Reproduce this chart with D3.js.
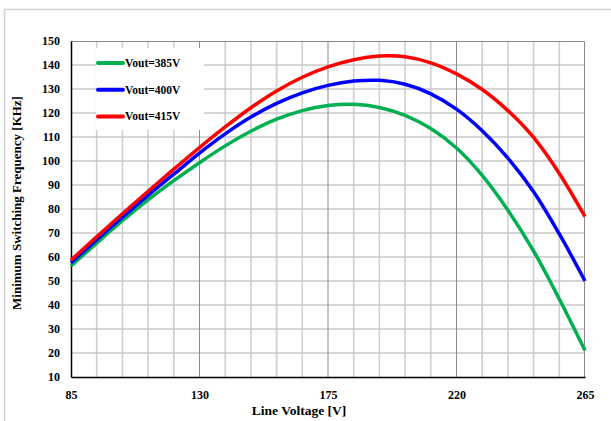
<!DOCTYPE html>
<html>
<head>
<meta charset="utf-8">
<script src="https://cdn.jsdelivr.net/npm/d3@7"></script>
<style>
  body { margin: 0; background: #fff; }
  text { font-family: "Liberation Serif", "Times New Roman", serif; font-weight: bold; fill: #000; }
</style>
</head>
<body>
<svg id="chart"></svg>
<script>
// Line voltage samples [V]
const voltage = [85, 94, 103, 112, 121, 130, 139, 148, 157, 166, 175, 184, 193, 202, 211, 220, 229, 238, 247, 256, 265];

// Minimum switching frequency [KHz]
const vout385 = [56.3, 65.8, 75.1, 83.8, 91.8, 99.3, 106.3, 112.4, 117.4, 121, 123.1, 123.6, 122.3, 119, 113.5, 105.4, 94, 79.5, 62.5, 42.5, 21];
const vout400 = [57.6, 67.2, 76.6, 85.7, 94.5, 103.3, 111.3, 118.3, 124, 128.4, 131.5, 133.3, 133.6, 132, 128, 121.6, 112.6, 101.2, 87.2, 69.6, 50];
const vout415 = [58.7, 68.4, 78, 87.4, 96.6, 105.6, 114.2, 122.2, 129.2, 134.9, 139.2, 142.2, 143.7, 143.4, 140.9, 136.3, 129.8, 121, 109.8, 94.8, 76.8];

const seriesNames = ['Vout=385V', 'Vout=400V', 'Vout=415V'];
const seriesColors = ['#00b050', '#0000ff', '#ff0000'];

const xTicks = [85, 130, 175, 220, 265];
const yTicks = [10, 20, 30, 40, 50, 60, 70, 80, 90, 100, 110, 120, 130, 140, 150];

const W = 611, H = 421;
const margin = {top: 41, right: 26, bottom: 44, left: 71};
const width = W - margin.left - margin.right;
const height = H - margin.top - margin.bottom;

const svg = d3.select('#chart').attr('width', W).attr('height', H);

// outer frame (only top and left edges are visible)
svg.append('path')
    .attr('d', `M4.5,${H} L4.5,9.5 L${W},9.5`)
    .attr('fill', 'none')
    .attr('stroke', '#d4d4d4')
    .attr('stroke-width', 1.5);

const x = d3.scaleLinear().domain([85, 265]).range([0, width]);
const y = d3.scaleLinear().domain([10, 150]).range([height, 0]);

const g = svg.append('g').attr('transform', `translate(${margin.left},${margin.top})`);

// minor vertical grid every 9 V
const minorX = d3.range(85, 266, 9);
g.selectAll('.vgrid')
    .data(minorX.filter(v => !xTicks.includes(v)))
  .join('line')
    .attr('x1', d => x(d)).attr('x2', d => x(d))
    .attr('y1', 0).attr('y2', height)
    .attr('stroke', '#cfcfcf')
    .attr('stroke-width', 1.6);

// horizontal grid
g.selectAll('.hgrid')
    .data(yTicks.slice(1, -1))
  .join('line')
    .attr('x1', 0).attr('x2', width)
    .attr('y1', d => y(d)).attr('y2', d => y(d))
    .attr('stroke', '#c8c8c8')
    .attr('stroke-width', 1.6);

// major vertical grid
g.selectAll('.vmajor')
    .data(xTicks.slice(1, -1))
  .join('line')
    .attr('x1', d => x(d)).attr('x2', d => x(d))
    .attr('y1', 0).attr('y2', height)
    .attr('stroke', '#8a8a8a')
    .attr('stroke-width', 1);

// plot border top and right
g.append('path')
    .attr('d', `M0,0.5 L${width - 0.5},0.5 L${width - 0.5},${height}`)
    .attr('fill', 'none')
    .attr('stroke', '#8a8a8a')
    .attr('stroke-width', 1);

// legend box hides grid
g.append('rect')
    .attr('x', 25).attr('y', 7)
    .attr('width', 108).attr('height', 82)
    .attr('fill', '#fff');

// axes
const xAxis = d3.axisBottom(x).tickValues(xTicks).tickSize(0).tickPadding(13);
const yAxis = d3.axisLeft(y).tickValues(yTicks).tickSize(0).tickPadding(11);

g.append('g')
    .attr('transform', `translate(0,${height})`)
    .call(xAxis)
    .call(a => a.select('.domain').attr('stroke', '#000').attr('stroke-width', 1.5))
    .call(a => a.selectAll('text').attr('font-size', 12).style('font-family', '"Liberation Serif", serif').style('font-weight', 'bold'));

g.append('g')
    .call(yAxis)
    .call(a => a.select('.domain').attr('stroke', '#000').attr('stroke-width', 1.5))
    .call(a => a.selectAll('text').attr('font-size', 12).style('font-family', '"Liberation Serif", serif').style('font-weight', 'bold'));

// curves
const seriesData = [vout385, vout400, vout415];
const line = d3.line()
    .x((d, i) => x(voltage[i]))
    .y(d => y(d))
    .curve(d3.curveCatmullRom.alpha(0.5));

g.selectAll('.curve')
    .data(seriesData)
  .join('path')
    .attr('class', 'curve')
    .attr('d', line)
    .attr('fill', 'none')
    .attr('stroke', (d, i) => seriesColors[i])
    .attr('stroke-width', 3.5);

// legend
const legend = g.append('g').attr('transform', 'translate(27,22)');
seriesNames.forEach((name, i) => {
    const row = legend.append('g').attr('transform', `translate(0,${i * 26.7})`);
    row.append('line')
        .attr('x1', 0).attr('x2', 25)
        .attr('y1', 0).attr('y2', 0)
        .attr('stroke', seriesColors[i])
        .attr('stroke-width', 4)
        .attr('stroke-linecap', 'round');
    row.append('text')
        .attr('x', 27).attr('y', 4)
        .attr('font-size', 11.5)
        .text(name);
});

// axis titles
svg.append('text')
    .attr('x', 299).attr('y', 415)
    .attr('text-anchor', 'middle')
    .attr('font-size', 13.5)
    .text('Line Voltage [V]');

svg.append('text')
    .attr('transform', 'translate(21,203) rotate(-90)')
    .attr('text-anchor', 'middle')
    .attr('font-size', 13)
    .text('Minimum Switching Frequency [KHz]');
</script>
</body>
</html>
